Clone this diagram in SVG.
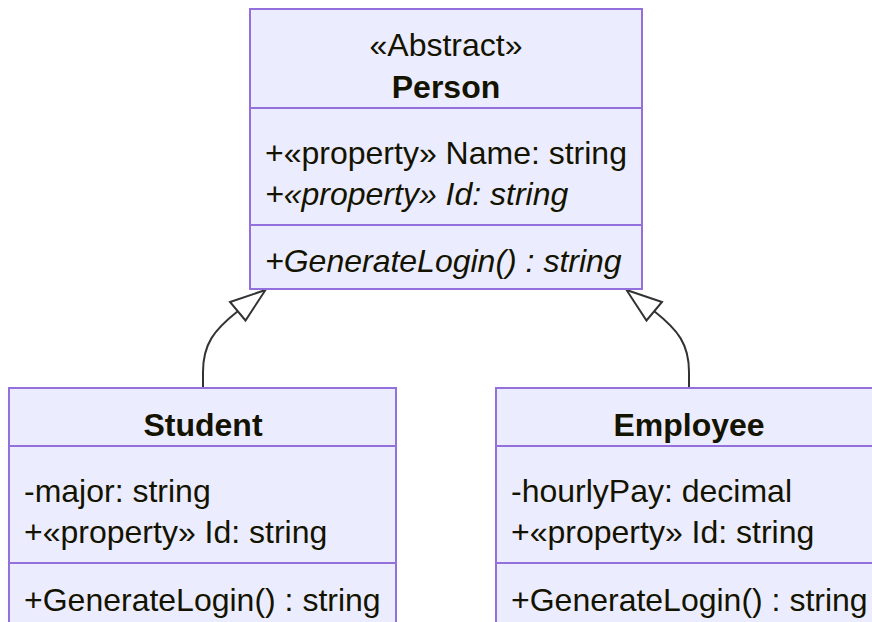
<svg xmlns="http://www.w3.org/2000/svg" width="872" height="622" viewBox="0 0 872 622">
  <style>
    .box { fill: #ECECFF; stroke: #9370DB; stroke-width: 2; }
    .div { stroke: #9370DB; stroke-width: 2; }
    text { font-family: "Liberation Sans", Arial, sans-serif; font-size: 32px; fill: #131300; }
    .title { font-weight: bold; text-anchor: middle; }
    .mid { text-anchor: middle; }
    .it { font-style: italic; }
    .edge { fill: none; stroke: #333333; stroke-width: 2; }
    .head { fill: #ffffff; stroke: #333333; stroke-width: 2; stroke-linejoin: miter; }
  </style>
  <rect width="872" height="622" fill="#ffffff"/>

  <g id="connectors">
    <path class="edge" d="M203,388 L203,372 C203,344 214,330 238,311"/>
    <polygon class="head" points="265.5,290 230,302 245.5,320.5"/>
    <path class="edge" d="M689,388 L689,372 C689,344 678,330 654,311"/>
    <polygon class="head" points="626.5,290 662,302 646.5,320.5"/>
  </g>

  <g id="Person">
    <rect class="box" x="250" y="9" width="392" height="280"/>
    <line class="div" x1="250" y1="108" x2="642" y2="108"/>
    <line class="div" x1="250" y1="225" x2="642" y2="225"/>
    <text class="mid" x="446" y="56">«Abstract»</text>
    <text class="title" x="446" y="98">Person</text>
    <text x="265" y="164">+«property» Name: string</text>
    <text class="it" x="265" y="205">+«property» Id: string</text>
    <text class="it" x="265" y="272">+GenerateLogin() : string</text>
  </g>

  <g id="Student">
    <rect class="box" x="9" y="388" width="387" height="250"/>
    <line class="div" x1="9" y1="446" x2="396" y2="446"/>
    <line class="div" x1="9" y1="563" x2="396" y2="563"/>
    <text class="title" x="203" y="436">Student</text>
    <text x="24" y="502">-major: string</text>
    <text x="24" y="543">+«property» Id: string</text>
    <text x="24" y="611">+GenerateLogin() : string</text>
  </g>

  <g id="Employee">
    <rect class="box" x="496" y="388" width="387" height="250"/>
    <line class="div" x1="496" y1="446" x2="883" y2="446"/>
    <line class="div" x1="496" y1="563" x2="883" y2="563"/>
    <text class="title" x="689" y="436">Employee</text>
    <text x="511" y="502">-hourlyPay: decimal</text>
    <text x="511" y="543">+«property» Id: string</text>
    <text x="511" y="611">+GenerateLogin() : string</text>
  </g>
</svg>
